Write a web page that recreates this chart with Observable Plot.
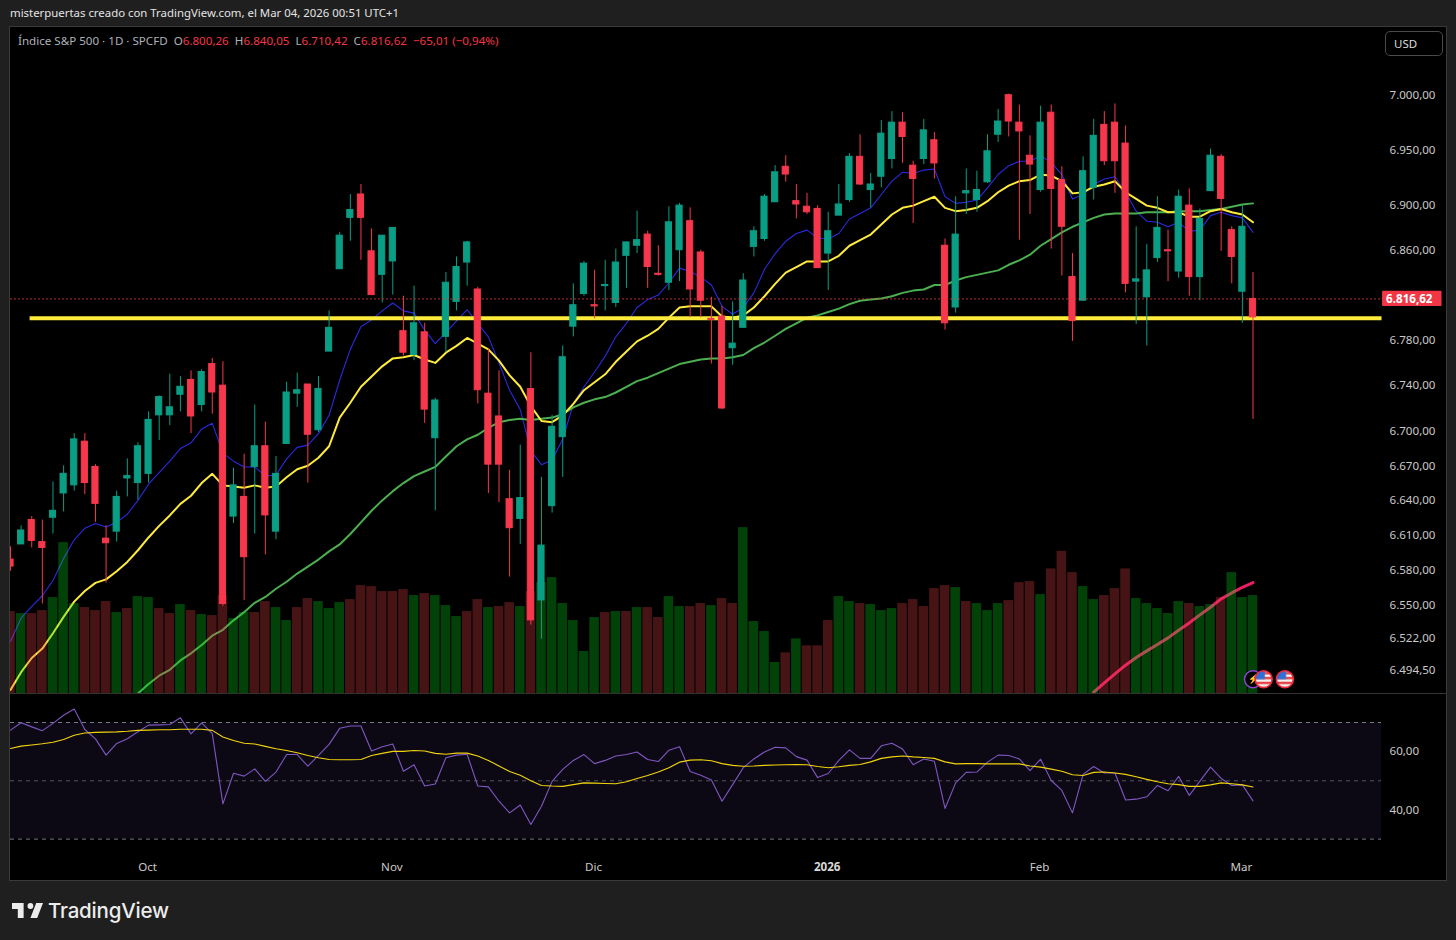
<!DOCTYPE html>
<html lang="es">
<head>
<meta charset="utf-8">
<title>Índice S&amp;P 500</title>
<script src="https://cdn.jsdelivr.net/npm/d3@7"></script>
<script src="https://cdn.jsdelivr.net/npm/@observablehq/plot@0.6"></script>
<style>
  html,body{margin:0;padding:0;background:#1f1f1f;width:1456px;height:940px;overflow:hidden;font-family:"Noto Sans",sans-serif;}
  #head{position:absolute;left:10px;top:5px;font-size:11.4px;line-height:16px;color:#e4e4e4;white-space:nowrap;}
  #frame{position:absolute;left:10px;top:27px;width:1436px;height:853px;background:#000;overflow:hidden;}
  #border{position:absolute;left:9px;top:26px;width:1436px;height:853px;border:1px solid #3a3a3a;pointer-events:none;}
  .layer{position:absolute;left:0;}
  .layer svg{display:block;}
  #sep{position:absolute;left:0;top:666px;width:1436px;height:1px;background:#333;}
  #legend{position:absolute;left:8px;top:6px;font-size:11.6px;line-height:16px;color:#aeb1ba;white-space:pre;}
  #legend b{font-weight:400;color:#f23645;}
  #usd{position:absolute;left:1375px;top:4px;width:56px;height:23px;border:1px solid #4a4a4a;border-radius:5px;color:#dcdcdc;font-size:11.5px;line-height:23px;text-align:left;box-sizing:content-box;text-indent:8px;background:#000;}
  #foot{position:absolute;left:12px;top:898px;height:24px;display:flex;align-items:center;color:#ececec;font-family:"Inter",sans-serif;font-size:20.5px;font-weight:500;letter-spacing:-.2px;}
  #foot svg{width:31px;height:15px;margin-right:5px;fill:#ececec;}
</style>
</head>
<body>
<div id="head">misterpuertas creado con TradingView.com, el Mar 04, 2026 00:51 UTC+1</div>
<svg width="0" height="0" style="position:absolute">
  <defs>
    <pattern id="usflag" patternUnits="objectBoundingBox" width="1" height="1" viewBox="0 0 14 14">
      <rect width="14" height="14" fill="#f4f4f4"/>
      <rect y="1" width="14" height="2" fill="#e8403f"/>
      <rect y="5" width="14" height="2" fill="#e8403f"/>
      <rect y="9" width="14" height="2" fill="#e8403f"/>
      <rect y="13" width="14" height="1" fill="#e8403f"/>
      <rect width="8" height="7" fill="#2f6fd6"/>
    </pattern>
  </defs>
</svg>
<div id="frame">
  <div class="layer" id="under" style="top:0"></div>
  <div class="layer" id="vol" style="top:0"></div>
  <div class="layer" id="main" style="top:0"></div>
  <div id="sep"></div>
  <div class="layer" id="rsi" style="top:666px"></div>
  <div id="legend">Índice S&amp;P 500 · 1D · SPCFD  O<b>6.800,26</b>  H<b>6.840,05</b>  L<b>6.710,42</b>  C<b>6.816,62</b>  <b>−65,01 (−0,94%)</b></div>
  <div id="usd">USD</div>
</div>
<div id="border"></div>
<div id="foot"><svg viewBox="2 6 32 15" preserveAspectRatio="none"><path d="M14 6H2v6h6v9h6V6Zm14 15h-7l6-15h7l-6 15Zm-7-9a3 3 0 1 0 0-6 3 3 0 0 0 0 6Z"/></svg>TradingView</div>

<script>
// ---- Price candles (values in index points) ----
const bodyHigh = [
6589,6614,6623,6604,6631,6663,6693,6691,6669,6607,
6643,6661,6687,6710,6730,6721,6739,6745,6752,6759,
6740,6653,6643,6687,6687,6663,6734,6736,6741,6737,
6791,6873,6896,6910,6859,6873,6880,6788,6795,6787,
6727,6831,6845,6867,6825,6733,6713,6641,6642,6737,
6601,6704,6765,6811,6848,6811,6829,6849,6867,6869,
6874,6839,6885,6900,6886,6858,6799,6801,6777,6833,
6877,6908,6930,6935,6904,6899,6897,6877,6901,6944,
6944,6919,6965,6975,6975,6936,6968,6959,6864,6874,
6913,6914,6949,6976,7000,6975,6945,6975,6984,6923,
6836,6931,6963,6973,6975,6956,6834,6842,6880,6860,
6908,6900,6888,6945,6944,6878,6881,6816.62];
const bodyLow = [
6583,6602,6605,6599,6625,6646,6653,6655,6637,6603,
6613,6659,6655,6663,6714,6714,6732,6713,6723,6734,
6551,6626,6591,6669,6627,6613,6689,6733,6697,6701,
6770,6843,6889,6889,6820,6838,6850,6769,6767,6719,
6694,6783,6814,6849,6736,6671,6671,6616,6624,6537,
6554,6635,6695,6792,6821,6810,6828,6813,6855,6864,
6845,6838,6831,6860,6825,6815,6798,6720,6773,6791,
6863,6870,6903,6928,6901,6894,6844,6857,6891,6905,
6919,6914,6926,6942,6962,6924,6942,6938,6795,6809,
6911,6905,6921,6964,6976,6967,6937,6914,6915,6881,
6797,6815,6916,6940,6940,6830,6832,6818,6853,6859,
6841,6836,6836,6913,6906,6854,6823,6800.26];
const wickHigh = [
6600,6618,6626,6623,6656,6670,6698,6698,6671,6618,
6648,6676,6690,6717,6731,6750,6748,6753,6754,6764,
6761,6668,6680,6723,6708,6678,6743,6751,6741,6748,
6806,6876,6910,6919,6879,6873,6880,6819,6828,6795,
6729,6840,6854,6868,6827,6772,6753,6666,6688,6769,
6660,6714,6775,6830,6850,6842,6851,6861,6867,6895,
6877,6864,6899,6902,6898,6860,6818,6810,6814,6839,
6881,6910,6936,6945,6919,6911,6900,6894,6919,6947,
6964,6929,6977,6985,6984,6940,6978,6966,6870,6908,
6933,6931,6964,6987,7001,6991,6963,6990,6991,6935,
6857,6944,6978,6985,6992,6972,6881,6865,6908,6878,
6914,6915,6897,6951,6946,6881,6900,6840.05];
const wickLow = [
6579,6602,6599,6551,6611,6630,6648,6645,6621,6569,
6604,6643,6640,6655,6692,6705,6717,6698,6717,6715,
6549,6620,6554,6611,6593,6606,6689,6721,6655,6699,
6770,6843,6868,6851,6820,6813,6820,6766,6762,6707,
6631,6769,6806,6828,6724,6646,6638,6574,6602,6533,
6521,6629,6660,6783,6819,6799,6806,6809,6826,6857,
6826,6837,6824,6832,6800,6800,6759,6719,6758,6791,
6854,6868,6903,6921,6888,6892,6844,6824,6891,6903,
6918,6898,6916,6933,6938,6884,6937,6924,6789,6804,
6892,6894,6920,6957,6962,6869,6892,6912,6861,6837,
6779,6815,6905,6936,6911,6822,6794,6775,6849,6832,
6835,6819,6815,6913,6859,6830,6795,6710.42];
const candleDir =
"RGRRGGGRRR"+"GGGGGGGRGR"+"RGRGRGGGRG"+"GGGRRGGRGR"+"GGGGRRRRGR"+
"GGGGGRGGGG"+"RRGGRRRRGG"+"GGGRRRRGGG"+"RGGGRRGRRG"+"GGGGRRRGRR"+
"RGGRRRGGGR"+"GRGGRRGR";

// ---- Moving averages on price ----
const blueMa = [
6519,6539,6549,6558,6571,6590,6606,6616,6620,6617,
6621,6628,6640,6654,6664,6674,6685,6690,6702,6707,
6681,6674,6669,6669,6661,6662,6676,6686,6688,6698,
6714,6745,6772,6792,6798,6806,6813,6806,6804,6789,
6777,6787,6797,6807,6795,6783,6760,6736,6719,6683,
6671,6675,6693,6724,6739,6752,6766,6783,6795,6809,
6816,6820,6831,6844,6841,6836,6829,6810,6803,6809,
6822,6843,6857,6868,6875,6878,6871,6870,6875,6888,
6893,6898,6910,6922,6930,6929,6932,6933,6908,6902,
6903,6905,6916,6928,6936,6940,6940,6945,6939,6928,
6906,6910,6919,6924,6926,6912,6895,6886,6885,6881,
6885,6877,6878,6891,6894,6891,6889,6876];
const yellowMa = [
6478,6493,6505,6513,6526,6540,6553,6562,6569,6572,
6579,6587,6597,6608,6618,6627,6637,6644,6655,6663,
6653,6652,6651,6653,6651,6652,6660,6667,6670,6677,
6687,6712,6725,6739,6748,6757,6764,6765,6767,6763,
6760,6769,6775,6782,6777,6772,6762,6749,6739,6722,
6709,6708,6714,6724,6736,6743,6750,6761,6770,6779,
6784,6790,6800,6809,6810,6810,6810,6801,6800,6802,
6809,6819,6830,6840,6845,6850,6850,6850,6855,6864,
6869,6874,6883,6892,6898,6900,6904,6908,6898,6895,
6896,6898,6904,6912,6918,6922,6923,6928,6927,6922,
6911,6912,6917,6919,6922,6912,6906,6900,6898,6894,
6894,6890,6890,6895,6897,6894,6892,6885];
const greenMaStart = 12;
const greenMa = [
6475,6483,6490,6495,6503,6509,6516,6524,
6529,6537,6544,6552,6557,6564,6570,6577,6583,6589,
6596,6602,6611,6621,6631,6640,6648,6655,6661,6665,
6669,6678,6687,6693,6697,6703,6708,6710,6711,6710,
6711,6712,6715,6721,6725,6728,6730,6734,6739,6744,
6747,6751,6755,6759,6761,6763,6764,6764,6765,6767,
6773,6778,6784,6790,6795,6800,6802,6805,6808,6812,
6815,6816,6817,6819,6822,6824,6825,6829,6829,6833,
6836,6838,6840,6842,6847,6851,6856,6864,6870,6876,
6881,6885,6889,6892,6893,6893,6893,6894,6894,6894,
6895,6895,6895,6896,6897,6899,6901,6902];
const levelLine = 6799.5;
const levelSpan = [1.8, 129.1];
const lastPrice = 6816.62;
const priceTicks = [7000,6950,6900,6860,6820,6780,6740,6700,6670,6640,6610,6580,6550,6522,6494.5];

// ---- Volume (billions) ----
const volume = [
2.46,2.40,2.40,2.49,2.88,4.53,2.70,2.58,2.49,2.76,
2.43,2.55,2.91,2.88,2.55,2.40,2.67,2.49,2.37,2.34,
2.94,2.25,2.43,2.43,2.76,2.58,2.19,2.58,2.85,2.76,
2.55,2.73,2.82,3.24,3.21,3.06,3.06,3.12,2.94,3.00,
2.94,2.64,2.31,2.46,2.82,2.58,2.61,2.73,2.61,3.06,
3.33,3.48,2.70,2.19,1.26,2.28,2.43,2.46,2.46,2.58,
2.58,2.28,2.91,2.61,2.61,2.70,2.64,2.85,2.70,4.98,
2.16,1.86,0.93,1.22,1.64,1.43,1.43,2.19,2.91,2.76,
2.70,2.67,2.49,2.55,2.70,2.82,2.61,3.15,3.24,3.18,
2.76,2.70,2.49,2.70,2.79,3.33,3.36,2.97,3.74,4.27,
3.63,3.21,2.82,2.94,3.15,3.74,2.85,2.70,2.55,2.40,
2.76,2.70,2.61,2.67,2.88,3.63,2.88,2.94];
const volumeDir =
"RGRRGGGRRR"+"GRGGRRGRGR"+"RGGRRGGRRG"+"GGRRRRRRGR"+"GGGRRGRRGR"+
"GGGGGGRGRG"+"RRGGRRGRRG"+"GGGRGRRRGG"+"RGGGRRRRRG"+"RGGGRRRGRR"+
"RGGRRRGGGG"+"GRGGRGGG";
const volumeMaStart = 102;
const volumeMa = [0.04,0.32,0.59,0.85,1.08,1.28,1.47,1.67,1.90,2.12,2.36,2.59,2.84,3.02,3.19,3.33];

// ---- RSI pane ----
const rsi = [
67.4,69.9,68.5,67.2,69.7,72.5,74.6,67.6,64.4,58.8,
62.8,64.4,66.8,69.1,69.2,69.3,71.6,66.1,69.9,66.2,
42.1,52.6,51.6,54.1,49.8,53,59,59,55,58.7,
62.5,68,68.8,68.8,60.2,61.7,62.6,53.3,55.5,48.2,
48.9,57.9,58.8,59.1,48.2,47.9,43,39,41.7,35,
41.3,49.8,53.9,57,59,55.9,57,58.5,59,59.9,
57.3,56.6,60.5,61.7,53.2,51.9,50.3,43,48.7,54.5,
57.5,59.9,61.5,61.3,58.3,57.1,51.1,52.5,57,60.6,
57.7,57.7,62,62.9,60.9,55.5,57.5,56.7,40.5,49.3,
52.9,53,56.4,58.8,58.7,57.5,53.5,57.4,50.1,46.7,
39,52.2,54.9,52.7,52.7,43.4,43.7,44.5,48.4,46.6,
51.5,45,49.9,54.7,50.8,48.4,48.6,43.1];
const rsiMa = [
61.1,61.9,62.3,62.7,63.2,64.2,65.6,66.4,66.6,66.7,
66.8,67,67.3,67.4,67.5,67.5,67.7,67.7,67.7,67.3,
65,63.8,62.9,62.6,61.8,61,60.4,59.6,58.7,57.9,
57.3,57.2,57.2,57.3,58.7,59.4,60.1,60.1,60.4,60.2,
59.4,59.1,59.5,59.5,58.5,57,55.1,53.2,51.9,50,
48.4,48.2,48.1,48.7,49.3,49.2,49.1,49,49.7,50.8,
51.8,53,54.5,56.4,57.1,57.2,56.9,55.9,55.3,55,
55.1,55.3,55.4,55.5,55.6,55.5,54.9,54.5,54.8,55.3,
55.6,56.5,57.7,58.2,58.5,58.2,58,57.7,56.5,55.8,
55.9,55.9,55.8,55.8,55.8,55.8,55.1,54.7,54,53.3,
52.1,51.8,52.9,53,52.7,52.2,51.4,50.5,49.7,49,
48.7,48.1,48.1,48.6,49.3,49,48.6,47.9];
const rsiLevels = [70,50,30];
const rsiTicks = [60,40];

// ---- Time axis ----
const monthTicks = [13,36,55,97,116];
const monthLabels = ["Oct","Nov","Dic","Feb","Mar"];
const yearTicks = [77];
const yearLabels = ["2026"];

// ---- Event badges on the last bars ----
const flagBars = [118,120];
const boltBar = [117];
const badgeLevel = 6487;

// ---- Scales shared by the layers ----
const W = 1436, paneW = 1371, paneH = 666;
const xDomain = [0, 129.1];
const barIdx = d3.range(bodyHigh.length);
const priceY = {type:"log", domain:[6475,7062], range:[paneH,0], axis:null};
const fontFamily = '"Noto Sans",sans-serif';
const baseStyle = {background:"transparent", fontFamily, fontSize:"11.6px", color:"#c9c9c9", overflow:"visible"};
const opts = {width:W, marginLeft:0, marginRight:W-paneW, marginTop:0, marginBottom:0, style:baseStyle};
const loc = d3.formatLocale({decimal:",", thousands:".", grouping:[3], currency:["",""]});
const fmt2 = loc.format(",.2f");
const upColor = "#0a9e85", downColor = "#f7384c";
const candleColor = i => candleDir[i]==="G" ? upColor : downColor;

// Layer 1: lines the volume bars sit over
const under = Plot.plot({...opts, height:paneH,
  x:{domain:xDomain, axis:null}, y:priceY,
  marks:[
    Plot.line(blueMa,{x:(d,i)=>i, y:d=>d, stroke:"#2a2ae0", strokeWidth:1.1, clip:true}),
    Plot.line(greenMa,{x:(d,i)=>i+greenMaStart, y:d=>d, stroke:"#4caf50", strokeWidth:2, clip:true}),
    Plot.line(yellowMa,{x:(d,i)=>i, y:d=>d, stroke:"#ffeb3b", strokeWidth:2, clip:true}),
    Plot.line(levelSpan,{x:d=>d, y:()=>levelLine, stroke:"#ffeb3b", strokeWidth:4, strokeLinecap:"butt"})
  ]});
document.getElementById("under").append(under);

// Layer 2: volume, pinned to the bottom of the pane with its own scale
const volLayer = Plot.plot({...opts, height:paneH,
  x:{domain:xDomain, axis:null},
  y:{domain:[0,20], range:[paneH,0], axis:null},
  marks:[
    Plot.line(volumeMa,{x:(d,i)=>i+volumeMaStart, y:d=>d, stroke:"#e91e63", strokeWidth:3, strokeLinecap:"round", clip:true}),
    Plot.rect(barIdx,{x1:i=>i-0.45, x2:i=>i+0.45, y1:0, y2:i=>volume[i],
      fill:i=>volumeDir[i]==="G" ? "#08dc1e" : "#eb4148", fillOpacity:0.3})
  ]});
document.getElementById("vol").append(volLayer);

// Layer 3: candles, price axis and last-price tag
const mainLayer = Plot.plot({...opts, height:paneH,
  x:{domain:xDomain, axis:null}, y:priceY,
  marks:[
    Plot.ruleX(barIdx,{x:i=>i, y1:i=>wickLow[i], y2:i=>wickHigh[i], stroke:candleColor, strokeWidth:1}),
    Plot.rect(barIdx,{x1:i=>i-0.29, x2:i=>i+0.29, y1:i=>bodyLow[i], y2:i=>bodyHigh[i], fill:candleColor, stroke:candleColor, strokeWidth:1}),
    Plot.line([0,129.1],{x:d=>d, y:()=>lastPrice, stroke:"#f23645", strokeWidth:1, strokeDasharray:"1 3", strokeOpacity:0.85}),
    Plot.axisY(priceTicks,{anchor:"right", tickSize:0, tickPadding:8, tickFormat:fmt2, fill:"#c9c9c9", label:null}),
    Plot.rect([lastPrice],{x1:()=>129.2, x2:()=>134.8, y1:d=>d-6.8, y2:d=>d+6.8, fill:"#f23645", rx:1}),
    Plot.text([lastPrice],{x:()=>133.9, y:d=>d, text:fmt2, textAnchor:"end", fill:"#ffffff", fontWeight:"bold"}),
    Plot.dot(boltBar,{x:d=>d, y:()=>badgeLevel, r:8.5, fill:"#000", stroke:"#8e44d8", strokeWidth:1.4}),
    Plot.text(boltBar,{x:d=>d, y:()=>badgeLevel, text:()=>"⚡", fill:"#8e44d8", fontSize:9}),
    Plot.dot(flagBars,{x:d=>d, y:()=>badgeLevel, r:8.5, fill:"url(#usflag)", stroke:"#f0283c", strokeWidth:1.6})
  ]});
document.getElementById("main").append(mainLayer);

// RSI pane
const rsiPlot = Plot.plot({...opts, height:186, marginBottom:26,
  x:{domain:xDomain},
  y:{domain:[25.06,79.95]},
  marks:[
    Plot.rect([0],{x1:()=>0, x2:()=>129.1, y1:()=>d3.min(rsiLevels), y2:()=>d3.max(rsiLevels), fill:"#7e57c2", fillOpacity:0.1}),
    Plot.ruleY(rsiLevels,{x1:()=>0, x2:()=>129.1, y:d=>d, stroke:"#787b86", strokeWidth:1, strokeDasharray:"4 4", strokeOpacity:d=>d===50?0.65:1}),
    Plot.line(rsi,{x:(d,i)=>i, y:d=>d, stroke:"#7e57c2", strokeWidth:1.1}),
    Plot.line(rsiMa,{x:(d,i)=>i, y:d=>d, stroke:"#f2d40c", strokeWidth:1.1}),
    Plot.axisY(rsiTicks,{anchor:"right", tickSize:0, tickPadding:8, tickFormat:fmt2, fill:"#c9c9c9", label:null}),
    Plot.axisX(monthTicks,{anchor:"bottom", tickSize:0, tickPadding:9, dx:-1, tickFormat:d=>monthLabels[monthTicks.indexOf(d)], fill:"#c9c9c9", label:null}),
    Plot.axisX(yearTicks,{anchor:"bottom", tickSize:0, tickPadding:9, dx:-1, tickFormat:d=>yearLabels[yearTicks.indexOf(d)], fill:"#d8d8d8", fontWeight:"bold", label:null})
  ]});
document.getElementById("rsi").append(rsiPlot);
</script>
</body>
</html>
